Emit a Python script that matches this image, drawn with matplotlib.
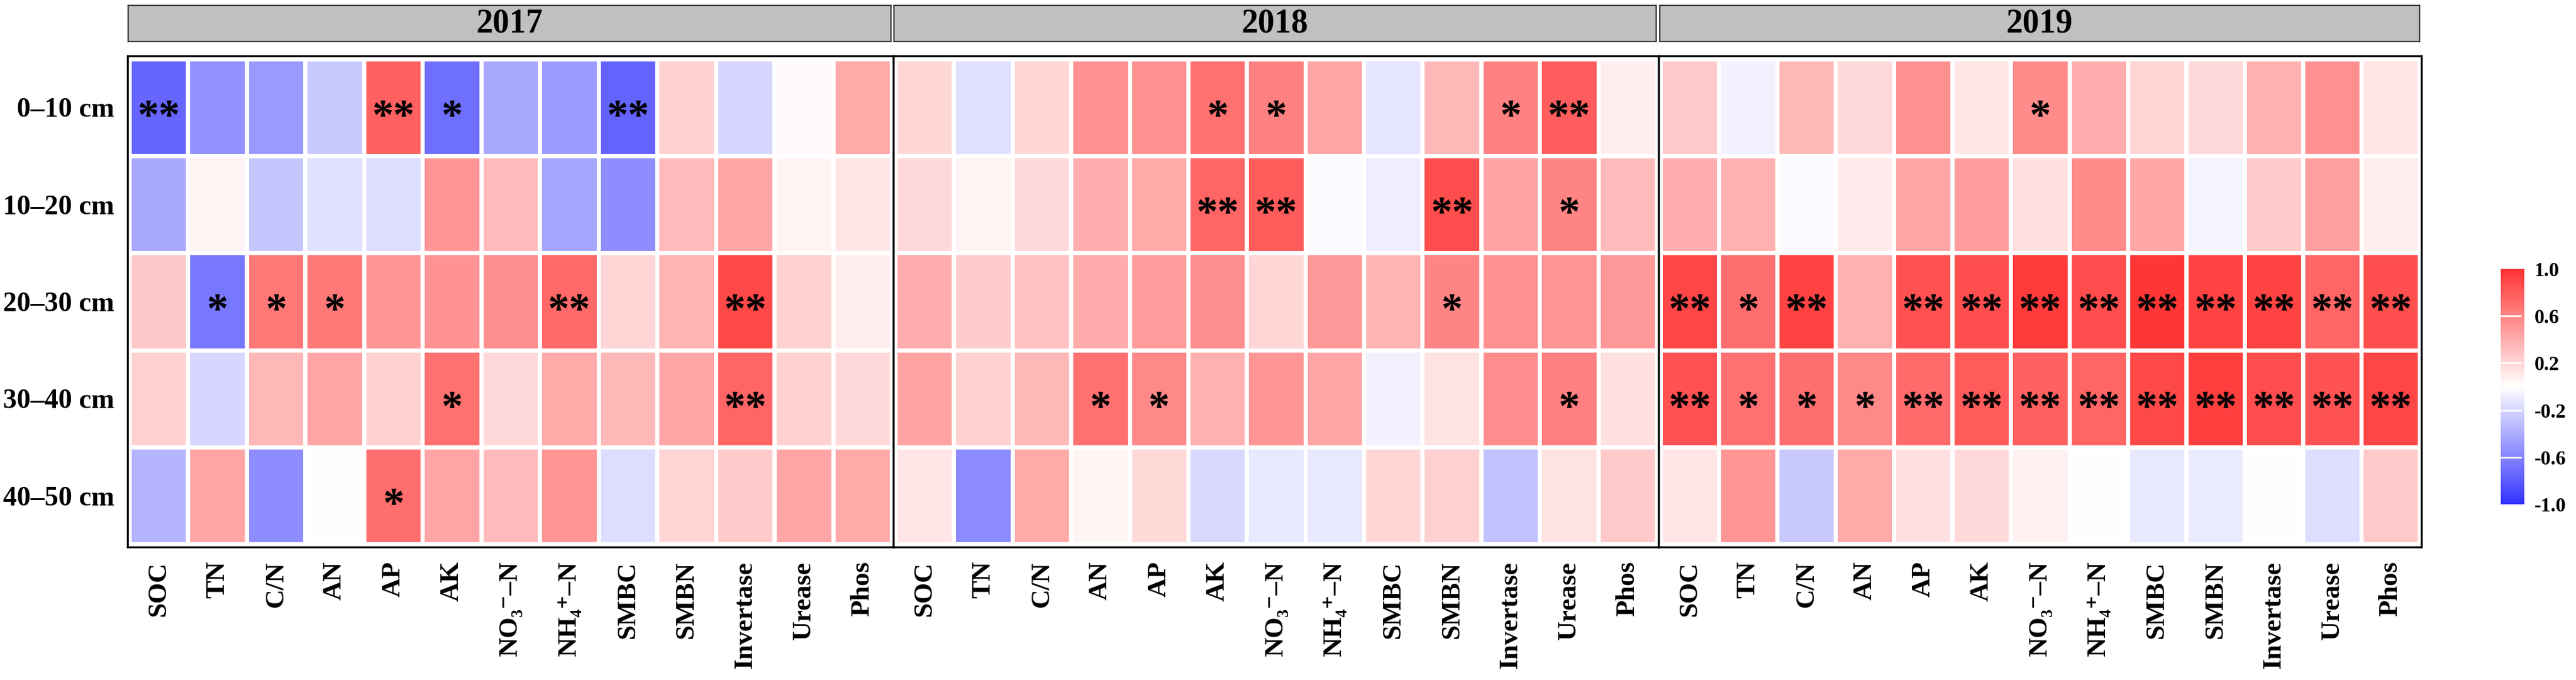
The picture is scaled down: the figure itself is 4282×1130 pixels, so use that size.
# Correlation heatmap: soil properties vs depth, faceted by year

import numpy as np
import matplotlib.pyplot as plt
from matplotlib.colors import LinearSegmentedColormap

plt.rcParams['font.family'] = ['Liberation Serif', 'DejaVu Serif']
plt.rcParams['font.weight'] = 'bold'

# =====================================
# Data
# =====================================
YEARS = ['2017', '2018', '2019']
DEPTHS = ['0–10 cm', '10–20 cm', '20–30 cm', '30–40 cm', '40–50 cm']
VARIABLES = ['SOC', 'TN', 'C/N', 'AN', 'AP', 'AK', 'NO₃⁻–N', 'NH₄⁺–N',
             'SMBC', 'SMBN', 'Invertase', 'Urease', 'Phos']

R_2017 = [
    [-0.75, -0.54, -0.50, -0.27, 0.78, -0.71, -0.42, -0.49, -0.76, 0.23, -0.20, 0.03, 0.42],
    [-0.42, 0.06, -0.28, -0.15, -0.17, 0.52, 0.33, -0.43, -0.56, 0.33, 0.44, 0.06, 0.12],
    [0.27, -0.66, 0.66, 0.65, 0.52, 0.53, 0.55, 0.73, 0.21, 0.37, 0.89, 0.22, 0.09],
    [0.22, -0.20, 0.35, 0.44, 0.22, 0.70, 0.18, 0.42, 0.35, 0.43, 0.75, 0.22, 0.18],
    [-0.36, 0.44, -0.56, 0.01, 0.71, 0.44, 0.33, 0.51, -0.17, 0.21, 0.25, 0.44, 0.42],
]
R_2018 = [
    [0.20, -0.15, 0.20, 0.54, 0.54, 0.70, 0.62, 0.43, -0.13, 0.35, 0.62, 0.79, 0.08],
    [0.18, 0.06, 0.18, 0.40, 0.42, 0.75, 0.80, -0.02, -0.08, 0.87, 0.45, 0.60, 0.33],
    [0.40, 0.25, 0.30, 0.41, 0.49, 0.55, 0.20, 0.50, 0.36, 0.60, 0.54, 0.52, 0.50],
    [0.45, 0.22, 0.35, 0.70, 0.58, 0.39, 0.51, 0.44, -0.07, 0.14, 0.56, 0.62, 0.15],
    [0.13, -0.57, 0.42, 0.05, 0.19, -0.19, -0.11, -0.11, 0.20, 0.23, -0.30, 0.14, 0.26],
]
R_2019 = [
    [0.26, -0.07, 0.35, 0.18, 0.54, 0.12, 0.57, 0.40, 0.20, 0.18, 0.38, 0.54, 0.13],
    [0.40, 0.38, -0.02, 0.10, 0.44, 0.48, 0.15, 0.57, 0.43, -0.05, 0.25, 0.47, 0.08],
    [0.90, 0.71, 0.92, 0.38, 0.85, 0.86, 0.96, 0.87, 0.98, 0.92, 0.92, 0.75, 0.86],
    [0.85, 0.70, 0.71, 0.58, 0.72, 0.80, 0.78, 0.75, 0.89, 0.94, 0.87, 0.84, 0.90],
    [0.13, 0.51, -0.27, 0.42, 0.15, 0.18, 0.07, 0.00, -0.11, -0.10, 0.00, -0.17, 0.26],
]

SIG_2017 = [
    ['**', '', '', '', '**', '*', '', '', '**', '', '', '', ''],
    ['', '', '', '', '', '', '', '', '', '', '', '', ''],
    ['', '*', '*', '*', '', '', '', '**', '', '', '**', '', ''],
    ['', '', '', '', '', '*', '', '', '', '', '**', '', ''],
    ['', '', '', '', '*', '', '', '', '', '', '', '', ''],
]
SIG_2018 = [
    ['', '', '', '', '', '*', '*', '', '', '', '*', '**', ''],
    ['', '', '', '', '', '**', '**', '', '', '**', '', '*', ''],
    ['', '', '', '', '', '', '', '', '', '*', '', '', ''],
    ['', '', '', '*', '*', '', '', '', '', '', '', '*', ''],
    ['', '', '', '', '', '', '', '', '', '', '', '', ''],
]
SIG_2019 = [
    ['', '', '', '', '', '', '*', '', '', '', '', '', ''],
    ['', '', '', '', '', '', '', '', '', '', '', '', ''],
    ['**', '*', '**', '', '**', '**', '**', '**', '**', '**', '**', '**', '**'],
    ['**', '*', '*', '*', '**', '**', '**', '**', '**', '**', '**', '**', '**'],
    ['', '', '', '', '', '', '', '', '', '', '', '', ''],
]

COLORBAR_TICKS = [-1.0, -0.6, -0.2, 0.2, 0.6, 1.0]

# =====================================
# Figure layout (pixels of a 4282x1130 canvas)
# =====================================
W, H = 4282, 1130
CMAP = LinearSegmentedColormap.from_list('bwr_soft', ['#3333FF', '#FFFFFF', '#FF3333'])


def fig_rect(x0, y0, x1, y1):
    """Pixel box (top-left origin) -> figure fraction rect."""
    return [x0 / W, 1 - y1 / H, (x1 - x0) / W, (y1 - y0) / H]


fig = plt.figure(figsize=(W / 100, H / 100), dpi=100)

panel_x = [(212, 1485), (1485, 2757), (2757, 4025)]
strip_x = [(213, 1481), (1486, 2753), (2759, 4022)]
panel_y = (93, 909)

years_data = [(R_2017, SIG_2017), (R_2018, SIG_2018), (R_2019, SIG_2019)]

mesh = None
for i, (year, (vals, sig)) in enumerate(zip(YEARS, years_data)):
    ax = fig.add_axes(fig_rect(panel_x[i][0], panel_y[0], panel_x[i][1], panel_y[1]))
    data = np.array(vals)
    mesh = ax.pcolormesh(np.arange(len(VARIABLES) + 1) - 0.5,
                         np.arange(len(DEPTHS) + 1) - 0.5,
                         data, cmap=CMAP, vmin=-1, vmax=1,
                         edgecolors='white', linewidth=4.8)
    ax.set_xlim(-0.53, len(VARIABLES) - 0.47)
    ax.set_ylim(len(DEPTHS) - 0.47, -0.53)

    for r in range(len(DEPTHS)):
        for c in range(len(VARIABLES)):
            if sig[r][c]:
                ax.text(c, r + 0.22, sig[r][c], ha='center', va='baseline',
                        fontsize=51, fontweight='bold', color='black')

    ax.set_xticks(range(len(VARIABLES)))
    ax.set_xticklabels(VARIABLES, rotation=90, fontsize=32, fontweight='bold',
                       ha='center', va='top')
    ax.tick_params(axis='x', length=0, pad=17)
    if i == 0:
        ax.set_yticks(range(len(DEPTHS)))
        ax.set_yticklabels(DEPTHS, fontsize=33, fontweight='bold')
        ax.tick_params(axis='y', length=0, pad=16)
    else:
        ax.set_yticks([])
    for sp in ax.spines.values():
        sp.set_color('black')
        sp.set_linewidth(2.4)

    # facet strip
    sax = fig.add_axes(fig_rect(strip_x[i][0], 9, strip_x[i][1], 69))
    sax.set_facecolor('#C0C0C0')
    sax.set_xticks([])
    sax.set_yticks([])
    for sp in sax.spines.values():
        sp.set_color('#333333')
        sp.set_linewidth(1.6)
    sax.text(0.5, 0.5, year, transform=sax.transAxes, ha='center', va='center',
             fontsize=40, fontweight='bold')

# colorbar
cax = fig.add_axes(fig_rect(4157, 447, 4196, 838))
cb = fig.colorbar(mesh, cax=cax, ticks=COLORBAR_TICKS)
cb.outline.set_visible(False)
cb.set_ticklabels([f'{t:.1f}' for t in COLORBAR_TICKS])
cax.tick_params(length=0, labelsize=24, pad=12)
for t in COLORBAR_TICKS[1:-1]:
    cax.axhline(t, 0, 0.85, color='white', linewidth=2)

fig.savefig('out.png', dpi=100)
